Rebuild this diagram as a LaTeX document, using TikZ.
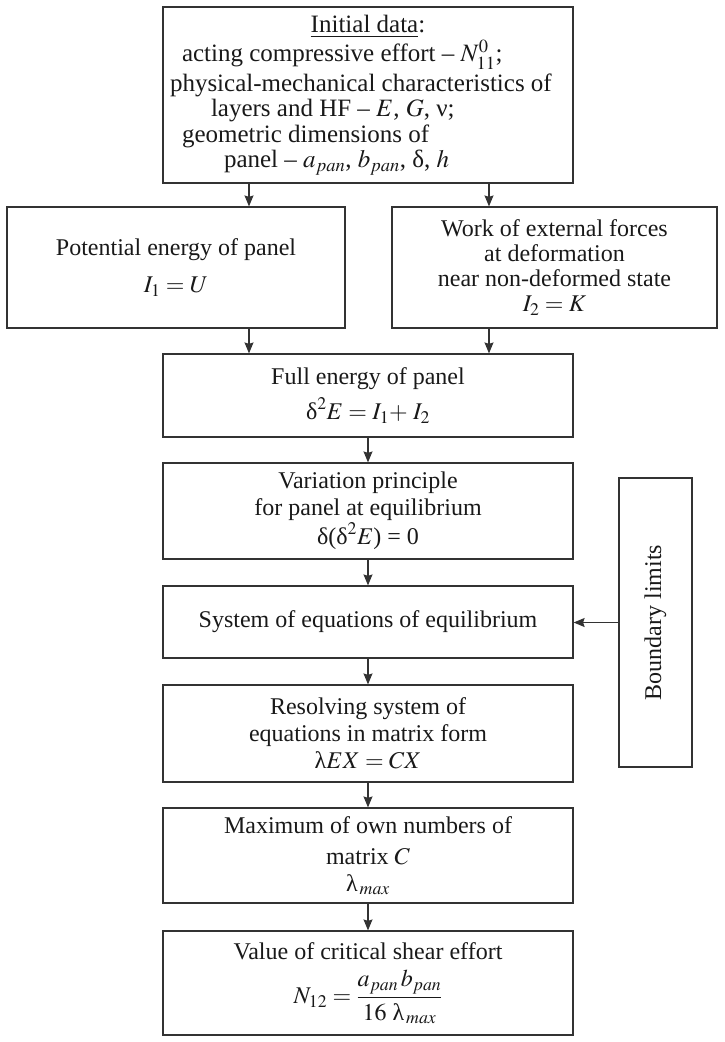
\documentclass[tikz,border=0pt]{standalone}
\usepackage{amsmath}
\usepackage{mathptmx}
\usepackage{fontspec}
\setmainfont{Liberation Serif}
\usetikzlibrary{arrows.meta}
\begin{document}
\begin{tikzpicture}[x=1pt,y=-1pt,
  box/.style={draw=black!80, line width=1.2pt, inner sep=0pt, align=center,
    font=\fontsize{24}{27}\selectfont, text=black!90},
  arr/.style={draw=black!80, line width=1.2pt, -{Stealth[length=11pt,width=9pt,inset=1.5pt]}}]
\useasboundingbox (0,0) rectangle (724,1042);
\node[box, minimum width=410pt, minimum height=176pt, font=\fontsize{25}{25.5}\selectfont] (init) at (368,95) {%
\begin{tabular}{@{}p{396pt}@{}}
\multicolumn{1}{@{}c@{}}{\underline{Initial data}:}\\
\hspace*{12pt}acting compressive effort – $N^{0}_{11}$;\\[4pt]
physical-mechanical characteristics of\\
\hspace*{41pt}layers and HF – $E$, $G$, ν;\\
\hspace*{12pt}geometric dimensions of\\
\hspace*{54pt}panel – $a_{pan}$, $b_{pan}$, δ, $h$
\end{tabular}};
\node[box, minimum width=338pt, minimum height=121pt] (pot) at (176,267.5)
  {Potential energy of panel\\[10pt] $I_1 = U$};
\node[box, minimum width=325pt, minimum height=121pt, font=\fontsize{24}{25}\selectfont] (work) at (554.5,267.5)
  {Work of external forces\\ at deformation\\ near non-deformed state\\ $I_2 = K$};
\node[box, minimum width=410pt, minimum height=83pt] (full) at (368,395.5)
  {Full energy of panel\\[8pt] $\text{δ}^2E = I_1{+}\;I_2$};
\node[box, minimum width=410pt, minimum height=96pt] (var) at (368,511)
  {Variation principle\\ for panel at equilibrium\\[2pt] δ($\text{δ}^2E$) = 0};
\node[box, minimum width=410pt, minimum height=72pt] (sys) at (368,622)
  {System of equations of equilibrium};
\node[box, rotate=90, minimum width=289pt, minimum height=73pt] (bnd) at (655.5,622.5)
  {Boundary limits};
\node[box, minimum width=410pt, minimum height=97pt] (res) at (368,733.5)
  {Resolving system of\\ equations in matrix form\\ λ$EX = CX$};
\node[box, minimum width=410pt, minimum height=95pt] (max) at (368,855.5)
  {Maximum of own numbers of\\[4pt] matrix $C$\\ λ$_{\,max}$};
\node[box, minimum width=410pt, minimum height=104pt] (val) at (368,983)
  {Value of critical shear effort\\[10pt] $N_{12} = \dfrac{a_{pan}\,b_{pan}}{16\ \text{λ}_{\,max}}$};
\coordinate (xl) at (249,0);
\coordinate (xr) at (489,0);
\draw[arr] (init.south -| xl) -- (pot.north -| xl);
\draw[arr] (init.south -| xr) -- (work.north -| xr);
\draw[arr] (pot.south -| xl) -- (full.north -| xl);
\draw[arr] (work.south -| xr) -- (full.north -| xr);
\draw[arr] (full.south) -- (var.north);
\draw[arr] (var.south) -- (sys.north);
\draw[arr] (sys.south) -- (res.north);
\draw[arr] (res.south) -- (max.north);
\draw[arr] (max.south) -- (val.north);
\draw[arr] (bnd.north) -- (bnd.north -| sys.east);
\end{tikzpicture}
\end{document}
